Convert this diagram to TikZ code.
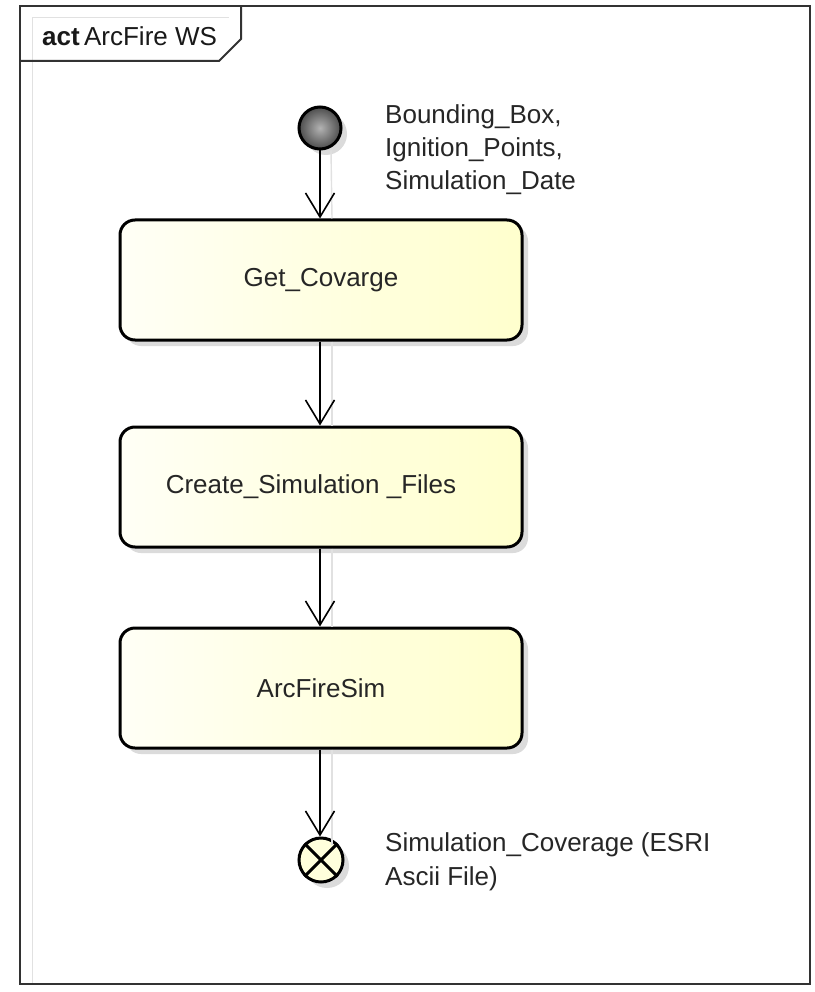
\documentclass[tikz,border=0pt]{standalone}
\usepackage{fontspec}
\setmainfont{Liberation Sans}
\usetikzlibrary{arrows.meta,shadows,shapes.misc}
\definecolor{frameline}{RGB}{50,50,50}
\definecolor{actlight}{RGB}{255,255,246}
\definecolor{actdark}{RGB}{255,255,205}
\definecolor{faint}{RGB}{225,225,225}
\tikzset{
  softshadow/.style={drop shadow={shadow xshift=6pt,shadow yshift=-6pt,fill=black!14,opacity=1}},
  actbox/.style={draw=black,line width=3pt,rounded corners=15pt,minimum width=402pt,
    minimum height=120pt,left color=actlight,right color=actdark,softshadow,
    font=\fontsize{26}{30}\selectfont,text=black!85},
  startnode/.style={circle,draw=black,line width=3pt,minimum size=42pt,inner sep=0pt,
    inner color=black!30,outer color=black!70,softshadow},
  endnode/.style={circle,draw=black,line width=3pt,minimum size=44pt,inner sep=0pt,
    fill=actdark!70!white,softshadow},
  flow/.style={draw=black,line width=1.6pt,-{Straight Barb[length=24pt,width=29pt,line width=1.6pt]}},
  ghost/.style={draw=faint,line width=1.4pt},
  note/.style={anchor=north west,align=left,inner sep=0pt,
    font=\fontsize{26}{33}\selectfont,text=black!85},
}
\begin{document}
\begin{tikzpicture}[x=1pt,y=-1pt]
  \useasboundingbox (0,0) rectangle (814,992);
  \fill[white] (0,0) rectangle (814,992);

  % diagram frame and name tab
  \draw[faint,line width=1pt] (32,984) -- (32,18) -- (229,18);
  \draw[frameline,line width=2pt] (20,6) rectangle (810,984);
  \draw[frameline,line width=2pt] (20,61) -- (219,61) -- (241,39) -- (241,6);
  \node[anchor=base west,inner sep=0pt,font=\fontsize{26}{30}\selectfont,text=black!90] (title) at (42,46)
    {\textbf{act}\,ArcFire WS};

  % activity nodes
  \node[actbox] (cov) at (321,280) {Get\_Covarge};
  \node[actbox] (files) at (321,487) {Create\_Simulation \_Files\hspace*{20pt}};
  \node[actbox] (sim) at (321,688) {ArcFireSim};
  \node[startnode] (start) at (320,128) {};
  \node[endnode] (final) at (321,860) {};
  \draw[black,line width=3pt] (final.north west) -- (final.south east)
                              (final.north east) -- (final.south west);

  % faint echoes of the control flows
  \draw[ghost] ([xshift=11pt]start.south) -- ([xshift=11pt]cov.north);
  \draw[ghost] ([xshift=11pt]cov.south) -- ([xshift=11pt]files.north);
  \draw[ghost] ([xshift=11pt]files.south) -- ([xshift=11pt]sim.north);
  \draw[ghost] ([xshift=11pt]sim.south) -- ([xshift=11pt,yshift=-8pt]final.north);

  % control flows
  \draw[flow] (start.south) -- (start.south |- cov.north);
  \draw[flow] (cov.south -| start) -- (start |- files.north);
  \draw[flow] (files.south -| start) -- (start |- sim.north);
  \draw[flow] (sim.south -| start) -- (start |- final.north);

  % parameter notes
  \node[note] (innote) at (385,104) {Bounding\_Box,\\Ignition\_Points,\\Simulation\_Date};
  \node[note,font=\fontsize{26}{34}\selectfont] (outnote) at (385,832) {Simulation\_Coverage (ESRI\\Ascii File)};
\end{tikzpicture}
\end{document}
